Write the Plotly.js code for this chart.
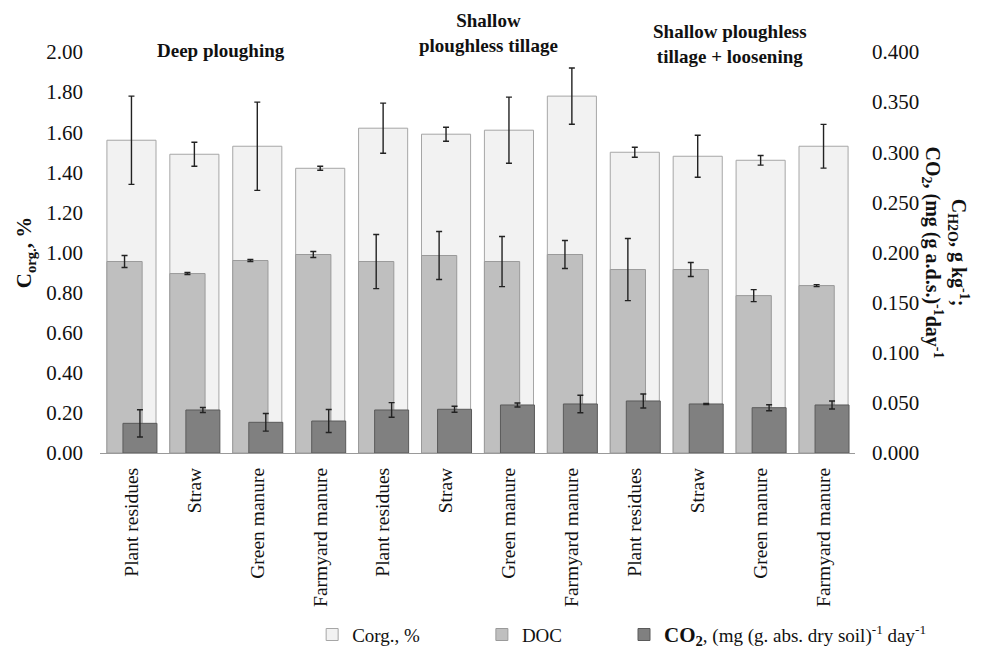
<!DOCTYPE html>
<html>
<head>
<meta charset="utf-8">
<script src="https://cdn.plot.ly/plotly-3.0.1.min.js"></script>
<style>html,body{margin:0;padding:0;background:#fff;}#chart{width:993px;height:651px;}</style>
</head>
<body>
<div id="chart"></div>
<script>
var categories = ["Plant residues","Straw","Green manure","Farmyard manure","Plant residues ","Straw ","Green manure ","Farmyard manure ","Plant residues  ","Straw  ","Green manure  ","Farmyard manure  "];
var tickLabels = ["Plant residues","Straw","Green manure","Farmyard manure","Plant residues","Straw","Green manure","Farmyard manure","Plant residues","Straw","Green manure","Farmyard manure"];
var corg =      [1.56, 1.49, 1.53, 1.42, 1.62, 1.59, 1.61, 1.78, 1.50, 1.48, 1.46, 1.53];
var corgErr =   [0.22, 0.06, 0.22, 0.01, 0.125, 0.035, 0.165, 0.14, 0.025, 0.105, 0.024, 0.109];
var doc =       [0.191, 0.179, 0.192, 0.198, 0.191, 0.197, 0.191, 0.198, 0.183, 0.183, 0.157, 0.167];
var docErr =    [0.006, 0.001, 0.001, 0.003, 0.027, 0.024, 0.025, 0.014, 0.031, 0.007, 0.006, 0.001];
var co2 =       [0.0296, 0.0429, 0.0306, 0.0319, 0.0429, 0.0436, 0.0479, 0.0489, 0.0519, 0.0489, 0.0452, 0.0479];
var co2Err =    [0.0136, 0.0025, 0.0088, 0.0115, 0.0073, 0.003, 0.002, 0.0087, 0.007, 0.0005, 0.003, 0.004];
var groupNames = ["Deep ploughing", "Shallow<br>ploughless tillage", "Shallow ploughless<br>tillage + loosening"];

var serif = "Liberation Serif, Times New Roman, serif";
var errStyle = {type:'data', visible:true, color:'#222', thickness:1.4, width:3};
var pad = function(n){ return new Array(n+1).join('\u00a0'); };

var traces = [
  {type:'bar', name:'Corg., %' + pad(12), x:categories, y:corg, yaxis:'y',
   width:0.78, offset:-0.39,
   marker:{color:'#f2f2f2', line:{color:'#a6a6a6', width:1}},
   error_y:Object.assign({array:corgErr}, errStyle)},
  {type:'bar', name:'DOC' + pad(12), x:categories, y:doc, yaxis:'y2',
   width:0.56, offset:-0.39,
   marker:{color:'#bfbfbf', line:{color:'#9a9a9a', width:1}},
   error_y:Object.assign({array:docErr}, errStyle)},
  {type:'bar', name:'<b><span style="font-size:21px">CO<sub>2</sub></span></b>, (mg (g. abs. dry soil)<sup>-1</sup> day<sup>-1</sup>', x:categories, y:co2, yaxis:'y2',
   width:0.54, offset:-0.135,
   marker:{color:'#808080', line:{color:'#5a5a5a', width:1}},
   error_y:Object.assign({array:co2Err}, errStyle)}
];

var layout = {
  width:993, height:651,
  margin:{l:100, r:138, t:52, b:198, autoexpand:false},
  paper_bgcolor:'#fff', plot_bgcolor:'#fff',
  barmode:'overlay',
  font:{family:serif, color:'#111', size:20},
  showlegend:true,
  legend:{orientation:'h', x:0.281, xanchor:'left', y:-0.453, yanchor:'middle',
          bgcolor:'rgba(0,0,0,0)', itemgap:0,
          font:{family:serif, size:19, color:'#111'}, traceorder:'normal'},
  xaxis:{type:'category', tickmode:'array', tickvals:categories, ticktext:tickLabels,
         tickangle:-90, tickfont:{family:serif, size:19.5, color:'#111'},
         showline:true, linecolor:'#9a9a9a', linewidth:1, ticks:'', showgrid:false,
         ticklabelstandoff:6, range:[-0.5, 11.5], automargin:false},
  yaxis:{range:[0,2.0], tickvals:[0,0.2,0.4,0.6,0.8,1.0,1.2,1.4,1.6,1.8,2.0],
         ticktext:["0.00","0.20","0.40","0.60","0.80","1.00","1.20","1.40","1.60","1.80","2.00"],
         showgrid:false, zeroline:false, showline:false, ticks:'', automargin:false,
         tickfont:{family:serif, size:21, color:'#111'}, ticklabelstandoff:16,
         title:{text:'<b>C<sub>org.</sub>, %</b>', font:{family:serif, size:21, color:'#111'}, standoff:8}},
  yaxis2:{range:[0,0.4], overlaying:'y', side:'right', automargin:false,
          tickvals:[0,0.05,0.1,0.15,0.2,0.25,0.3,0.35,0.4],
          ticktext:["0.000","0.050","0.100","0.150","0.200","0.250","0.300","0.350","0.400"],
          showgrid:false, zeroline:false, showline:false, ticks:'',
          tickfont:{family:serif, size:21, color:'#111'}, ticklabelstandoff:16},
  annotations:[
    {xref:'paper', yref:'paper', x:0.160, y:1.0025, text:'<b>'+groupNames[0]+'</b>', showarrow:false,
     xanchor:'center', yanchor:'middle', font:{family:serif, size:19, color:'#111'}},
    {xref:'paper', yref:'paper', x:0.514, y:1.047, text:'<b>'+groupNames[1]+'</b>', showarrow:false,
     xanchor:'center', yanchor:'middle', font:{family:serif, size:19, color:'#111'}},
    {xref:'paper', yref:'paper', x:0.834, y:1.021, text:'<b>'+groupNames[2]+'</b>', showarrow:false,
     xanchor:'center', yanchor:'middle', font:{family:serif, size:19, color:'#111'}},
    {xref:'paper', yref:'paper', x:1.1205, y:0.5, textangle:90,
     text:'<b>C<sub>H2O</sub>, g kg<sup>-1</sup>;<br>CO<sub>2</sub>, (mg (g a.d.s.)<sup>-1</sup>day<sup>-1</sup></b>',
     showarrow:false, xanchor:'center', yanchor:'middle', font:{family:serif, size:20, color:'#111'}}
  ]
};

Plotly.newPlot('chart', traces, layout, {displayModeBar:false, staticPlot:true});
</script>
</body>
</html>
